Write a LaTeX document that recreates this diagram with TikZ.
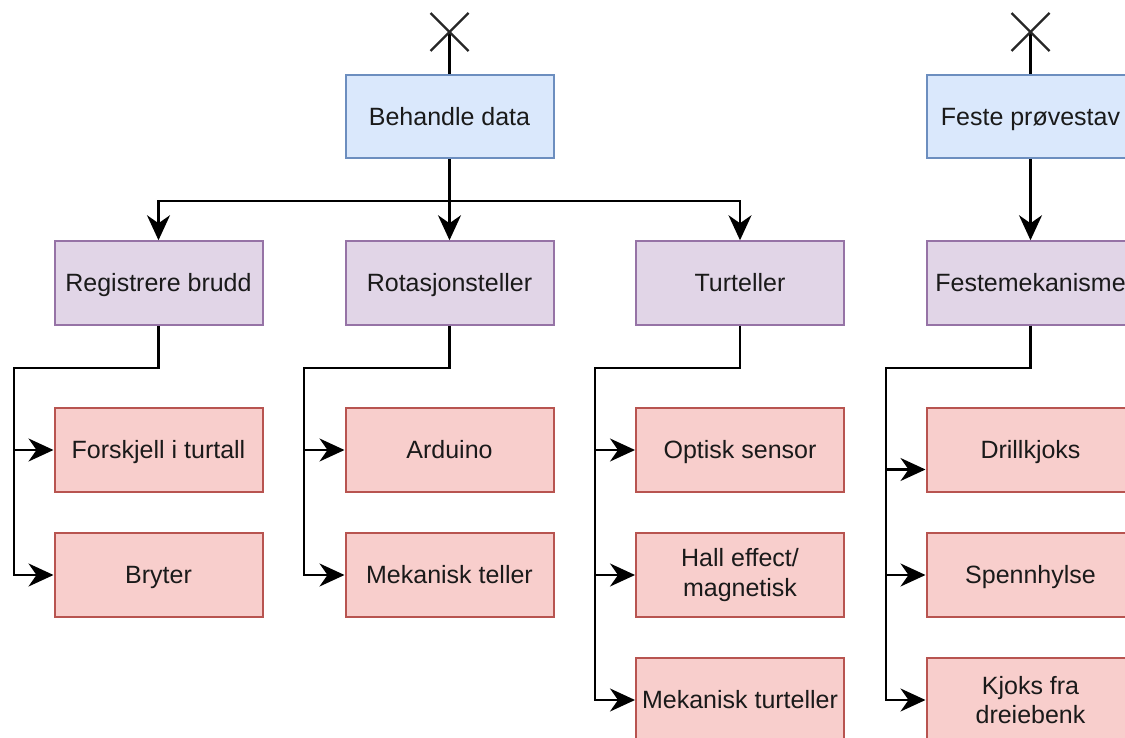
\documentclass[tikz,border=0pt]{standalone}
\usepackage{fontspec}
\setmainfont{Liberation Sans}
\usetikzlibrary{arrows.meta,calc}

\definecolor{bluefill}{HTML}{DAE8FC}
\definecolor{bluedraw}{HTML}{6C8EBF}
\definecolor{purplefill}{HTML}{E1D5E7}
\definecolor{purpledraw}{HTML}{9673A6}
\definecolor{redfill}{HTML}{F8CECC}
\definecolor{reddraw}{HTML}{B85450}
\definecolor{ink}{HTML}{1A1A1A}

\tikzset{
  x=1pt, y=-1pt,
  box/.style={rectangle, minimum width=208pt, minimum height=83.5pt,
    line width=2pt, inner sep=0pt, align=center, text=ink,
    font=\fontsize{25}{29.5}\selectfont,
    text height=23.7pt, text depth=6.4pt},
  twoline/.style={text height=, text depth=},
  funcbox/.style={box, fill=bluefill, draw=bluedraw},
  subbox/.style={box, fill=purplefill, draw=purpledraw},
  leafbox/.style={box, fill=redfill, draw=reddraw},
  link/.style={line width=2.2pt, draw=black},
  tiphead/.tip={Stealth[length=25pt, width=23pt, inset=8pt]},
  arr/.style={link, -tiphead},
  crossmark/.style={line width=2.2pt, draw=black!85},
}

\begin{document}
\begin{tikzpicture}
\useasboundingbox (0,0) rectangle (1125,738);
\fill[white] (0,0) rectangle (1125,738);
\clip (0,0) rectangle (1125,738);

% top level functions
\node[funcbox] (beh) at (449.5,116.5) {Behandle data};
\node[funcbox] (fes) at (1030.5,116.5) {Feste prøvestav};

% sub functions
\node[subbox] (reg) at (158.5,283) {Registrere brudd};
\node[subbox] (rot) at (449.5,283) {Rotasjonsteller};
\node[subbox] (tur) at (740,283) {Turteller};
\node[subbox] (fmk) at (1030.5,283) {Festemekanisme};

% solutions
\node[leafbox] (r1) at (158.5,450) {Forskjell i turtall};
\node[leafbox] (r2) at (158.5,575) {Bryter};
\node[leafbox] (o1) at (449.5,450) {Arduino};
\node[leafbox] (o2) at (449.5,575) {Mekanisk teller};
\node[leafbox] (t1) at (740,450) {Optisk sensor};
\node[leafbox, twoline] (t2) at (740,575) {Hall effect/\\magnetisk};
\node[leafbox] (t3) at (740,700) {Mekanisk turteller};
\node[leafbox] (f1) at (1030.5,450) {Drillkjoks};
\node[leafbox] (f2) at (1030.5,575) {Spennhylse};
\node[leafbox, twoline] (f3) at (1030.5,700) {Kjoks fra\\dreiebenk};

% crossed stems above the top level functions
\coordinate (xb) at (449.5,32);
\coordinate (xf) at (1030.5,32);
\draw[link] (beh.north) -- (xb);
\draw[link] (fes.north) -- (xf);
\foreach \c in {xb,xf}{
  \draw[crossmark] ($(\c)+(-19,-19)$) -- ($(\c)+(19,19)$);
  \draw[crossmark] ($(\c)+(-19,19)$) -- ($(\c)+(19,-19)$);
}

% decomposition of the top level
\draw[arr] (beh.south) -- ++(0,41.5) -| (reg.north);
\draw[arr] (beh.south) -- (rot.north);
\draw[arr] (beh.south) -- ++(0,41.5) -| (tur.north);
\draw[arr] (fes.south) -- (fmk.north);

% sub function buses
\draw[arr] (reg.south) -- ++(0,42) -- ++(-144.5,0) |- (r1.west);
\draw[arr] (reg.south) -- ++(0,42) -- ++(-144.5,0) |- (r2.west);
\draw[arr] (rot.south) -- ++(0,42) -- ++(-145.5,0) |- (o1.west);
\draw[arr] (rot.south) -- ++(0,42) -- ++(-145.5,0) |- (o2.west);
\draw[arr] (tur.south) -- ++(0,42) -- ++(-145,0) |- (t1.west);
\draw[arr] (tur.south) -- ++(0,42) -- ++(-145,0) |- (t2.west);
\draw[arr] (tur.south) -- ++(0,42) -- ++(-145,0) |- (t3.west);
\draw[arr] (fmk.south) -- ++(0,42) -- ++(-144.5,0) |- ([yshift=-19.5pt]f1.west);
\draw[arr] (fmk.south) -- ++(0,42) -- ++(-144.5,0) |- (f2.west);
\draw[arr] (fmk.south) -- ++(0,42) -- ++(-144.5,0) |- (f3.west);
\end{tikzpicture}
\end{document}
